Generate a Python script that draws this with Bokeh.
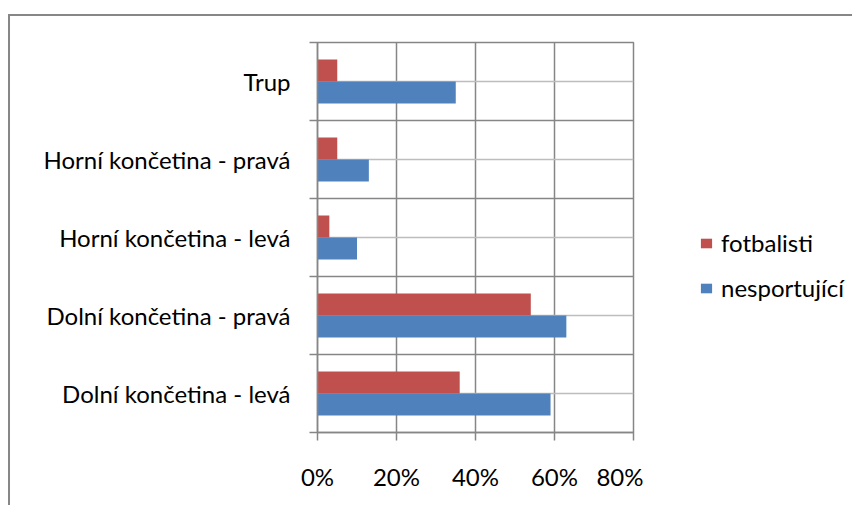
from bokeh.plotting import figure
from bokeh.layouts import row
from bokeh.models import (ColumnDataSource, FixedTicker, NumeralTickFormatter,
                          Legend, LegendItem, Range1d)
from bokeh.embed import file_html
from bokeh.resources import INLINE

# ---- data (bottom to top) ----
categories = ["Dolní končetina - levá", "Dolní končetina - pravá",
              "Horní končetina - levá", "Horní končetina - pravá", "Trup"]
fotbalisti = [0.36, 0.54, 0.03, 0.05, 0.05]
nesportujici = [0.59, 0.63, 0.10, 0.13, 0.35]
x_ticks = [0, 0.2, 0.4, 0.6, 0.8]
series_names = ["fotbalisti", "nesportující"]

RED = "#C0504D"
BLUE = "#4F81BD"
GRID = "#868686"
FONT = "Lato"
FS = "24px"

centers = [i + 0.5 for i in range(len(categories))]
bar_h = 0.282

src_f = ColumnDataSource(dict(y=[c + bar_h / 2 for c in centers], right=fotbalisti))
src_n = ColumnDataSource(dict(y=[c - bar_h / 2 for c in centers], right=nesportujici))

H = 489
p = figure(width=633, height=H, output_backend="svg", toolbar_location=None,
           x_range=Range1d(0, 0.8), y_range=Range1d(0, len(categories)),
           min_border_left=307, min_border_right=10,
           min_border_top=26, min_border_bottom=73)
p.outline_line_color = GRID
p.outline_line_width = 1.5

r_n = p.hbar(y="y", right="right", left=0, height=bar_h, source=src_n,
             fill_color=BLUE, line_color=None)
r_f = p.hbar(y="y", right="right", left=0, height=bar_h, source=src_f,
             fill_color=RED, line_color=None)

# x axis
p.xaxis.ticker = FixedTicker(ticks=x_ticks)
p.xaxis.formatter = NumeralTickFormatter(format="0%")
p.xaxis.axis_line_color = GRID
p.xaxis.axis_line_width = 1.5
p.xaxis.major_tick_line_color = GRID
p.xaxis.major_tick_line_width = 1.5
p.xaxis.major_tick_in = 0
p.xaxis.major_tick_out = 8
p.xaxis.minor_tick_line_color = None
p.xaxis.major_label_standoff = 21
p.xaxis.major_label_text_font = FONT
p.xaxis.major_label_text_font_size = FS
p.xaxis.major_label_text_color = "black"

# y axis: labels at centers, ticks at boundaries
p.yaxis.ticker = FixedTicker(ticks=centers,
                             minor_ticks=list(range(len(categories) + 1)))
p.yaxis.major_label_overrides = {c: lab for c, lab in zip(centers, categories)}
p.yaxis.axis_line_color = GRID
p.yaxis.axis_line_width = 1.5
p.yaxis.major_tick_line_color = None
p.yaxis.major_tick_in = 0
p.yaxis.major_tick_out = 0
p.yaxis.minor_tick_line_color = GRID
p.yaxis.minor_tick_line_width = 1.5
p.yaxis.minor_tick_in = 0
p.yaxis.minor_tick_out = 8
p.yaxis.major_label_standoff = 19
p.yaxis.major_label_text_font = FONT
p.yaxis.major_label_text_font_size = FS
p.yaxis.major_label_text_color = "black"

# grids
p.xgrid.ticker = FixedTicker(ticks=x_ticks)
p.xgrid.grid_line_color = GRID
p.xgrid.grid_line_width = 1.5
p.ygrid.grid_line_color = "#BDBDBD"
p.ygrid.grid_line_width = 1.5
p.ygrid.minor_grid_line_color = GRID
p.ygrid.minor_grid_line_width = 1.5

# legend panel (separate figure to the right, no axes)
pl = figure(width=209, height=H, output_backend="svg", toolbar_location=None,
            x_range=Range1d(0, 1), y_range=Range1d(0, 1),
            x_axis_location=None, y_axis_location=None,
            min_border=0, outline_line_color=None)
pl.grid.visible = False
# swatch renderers (no drawable data, only used for the legend keys)
nan = float("nan")
lf = pl.hbar(y=[nan], right=[nan], left=0, height=0.1, fill_color=RED, line_color=None)
ln = pl.hbar(y=[nan], right=[nan], left=0, height=0.1, fill_color=BLUE, line_color=None)

legend = Legend(items=[LegendItem(label=series_names[0], renderers=[lf]),
                       LegendItem(label=series_names[1], renderers=[ln])],
                location=(56, 130), orientation="vertical")
legend.border_line_color = None
legend.background_fill_alpha = 0
legend.padding = 0
legend.margin = 0
legend.spacing = 16
legend.glyph_width = 14
legend.glyph_height = 12
legend.label_standoff = 8
legend.label_text_font = FONT
legend.label_text_font_size = FS
legend.label_text_color = "black"
legend.label_height = 28
pl.add_layout(legend, "center")

layout = row(p, pl, spacing=0,
             styles={"border-left": "2px solid #878787",
                     "border-top": "2px solid #878787",
                     "margin-top": "14px", "margin-left": "8px"})

open("out.html", "w").write(file_html(layout, INLINE))
